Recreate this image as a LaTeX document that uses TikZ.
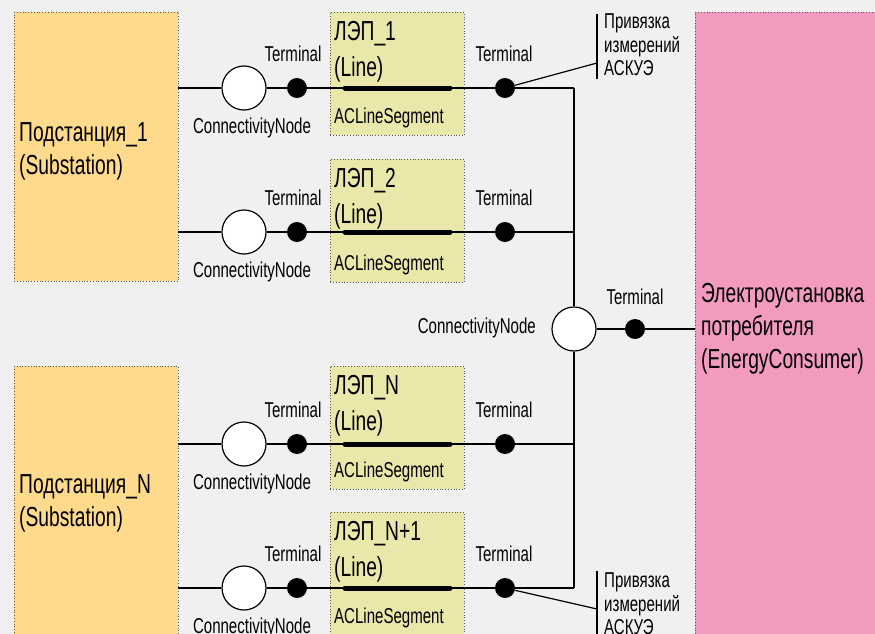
\documentclass[tikz,border=0pt]{standalone}
\usepackage{fontspec}
\setmainfont{Liberation Sans}[FakeStretch=0.7]
\definecolor{bgc}{HTML}{F0F0F0}
\definecolor{subc}{HTML}{FFD98C}
\definecolor{linec}{HTML}{E9E7A9}
\definecolor{pinkc}{HTML}{F29BBE}
\definecolor{brd}{HTML}{555555}
\tikzset{
  box/.style={draw=brd, dotted, line width=0.8pt, inner sep=0pt, anchor=north west},
  bigtxt/.style={font=\fontsize{27.5}{33}\selectfont, inner sep=0pt, align=left},
  smalltxt/.style={font=\fontsize{21.5}{23.5}\selectfont, inner sep=0pt},
  cnode/.style={circle, draw, line width=1.2pt, fill=white, minimum size=44pt, inner sep=0pt},
  term/.style={circle, fill=black, minimum size=20pt, inner sep=0pt},
  wire/.style={line width=1.6pt},
  segbar/.style={line width=5pt, line cap=round},
  anbar/.style={line width=2.2pt},
  leader/.style={line width=1.2pt}
}
\begin{document}
\begin{tikzpicture}[x=1pt,y=-1pt]
\useasboundingbox (0,0) rectangle (875,634);
\fill[bgc] (0,0) rectangle (875,634);

% substations
\node[box, fill=subc, minimum width=164pt, minimum height=269pt] (sub1) at (14,12) {};
\node[bigtxt, anchor=west] (sub1t) at (19,151) {Подстанция\_1\\(Substation)};
\node[box, fill=subc, minimum width=164pt, minimum height=280pt] (subN) at (14,366) {};
\node[bigtxt, anchor=west] (subNt) at (19,503) {Подстанция\_N\\(Substation)};

% consumer
\node[box, fill=pinkc, minimum width=190pt, minimum height=640pt] (cons) at (695,12) {};
\node[bigtxt, anchor=west] (const) at (701,329) {Электроустановка\\потребителя\\(EnergyConsumer)};

% line boxes
\foreach \top/\nm/\lbl in {12/l1/ЛЭП\_1, 159/l2/ЛЭП\_2, 366/l3/ЛЭП\_N, 512/l4/ЛЭП\_N+1}{
  \node[box, fill=linec, minimum width=134pt, minimum height=123pt] (\nm) at (330,\top) {};
  \node[bigtxt, anchor=west] (\nm a) at (334,\top+22) {\lbl};
  \node[bigtxt, anchor=west] (\nm b) at (334,\top+57) {(Line)};
  \node[smalltxt, anchor=west] (\nm c) at (334,\top+106) {ACLineSegment};
}

% rows
\foreach \y/\i in {88/1, 232/2, 444/3, 588/4}{
  \coordinate (s\i) at (178,\y);
  \coordinate (b\i) at (574,\y);
  \node[cnode] (cn\i) at (244,\y) {};
  \node[term] (tl\i) at (297,\y) {};
  \node[term] (tr\i) at (505,\y) {};
  \coordinate (sa\i) at (345,\y);
  \coordinate (sb\i) at (450,\y);
  \draw[wire] (s\i) -- (cn\i) -- (tl\i) -- (tr\i) -- (b\i);
  \draw[segbar] (sa\i) -- (sb\i);
  \node[smalltxt] (tlt\i) at (293,\y-34) {Terminal};
  \node[smalltxt] (trt\i) at (504,\y-34) {Terminal};
  \node[smalltxt] (cnt\i) at (252,\y+40) {ConnectivityNode};
}

% central bus
\node[cnode] (cnc) at (574,329) {};
\node[term] (tc) at (635,329) {};
\coordinate (ce) at (695,329);
\draw[wire] (b1) -- (cnc) -- (b4);
\draw[wire] (cnc) -- (tc) -- (ce);
\node[smalltxt] (tct) at (635,297) {Terminal};
\node[smalltxt, anchor=east] (cnct) at (536,328) {ConnectivityNode};

% annotations
\coordinate (ab1) at (597,14);
\coordinate (ab2) at (597,79);
\coordinate (ap1) at (597,63);
\draw[anbar] (ab1) -- (ab2);
\draw[leader] (tr1) -- (ap1);
\node[smalltxt, align=left, anchor=west] (an1) at (604,45) {Привязка\\измерений\\АСКУЭ};

\coordinate (ab3) at (597,571);
\coordinate (ab4) at (597,640);
\coordinate (ap2) at (597,609);
\draw[anbar] (ab3) -- (ab4);
\draw[leader] (tr4) -- (ap2);
\node[smalltxt, align=left, anchor=west] (an2) at (604,604) {Привязка\\измерений\\АСКУЭ};
\end{tikzpicture}
\end{document}
